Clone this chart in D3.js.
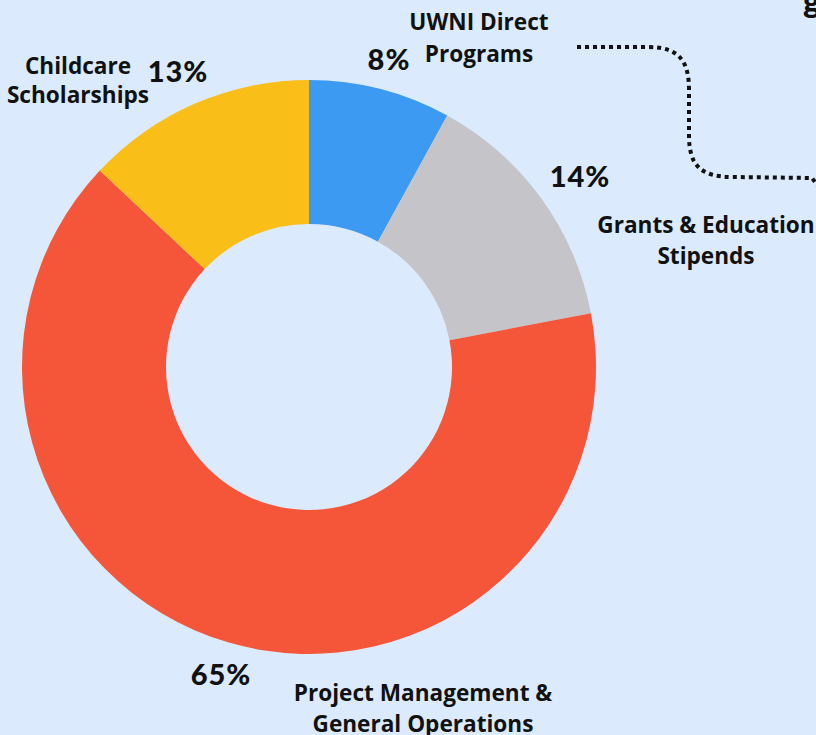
<!DOCTYPE html>
<html><head><meta charset="utf-8">
<script src="https://cdn.jsdelivr.net/npm/d3@7"></script>
<style>
html,body{margin:0;padding:0;background:#dbebfd;overflow:hidden}
svg{display:block}
.lbl{font-family:"Open Sans",sans-serif;font-weight:700;font-size:22.6px;fill:#111}
.pct{font-family:"Lato",sans-serif;font-weight:900;font-size:29px;letter-spacing:1px;fill:#111}
</style></head><body>
<script>
const categories = ["UWNI Direct Programs","Grants & Education Stipends","Project Management & General Operations","Childcare Scholarships"];
const values = [8, 14, 65, 13];
const colors = ["#3d9af2","#c5c4c9","#f5563a","#fabe19"];
const pctLabels = ["8%","14%","65%","13%"];
const labelLines = [["UWNI Direct","Programs"],["Grants & Education","Stipends"],["Project Management &","General Operations"],["Childcare","Scholarships"]];

const W=816,H=735;
const svg=d3.select("body").append("svg").attr("width",W).attr("height",H);
svg.append("rect").attr("width",W).attr("height",H).attr("fill","#dbebfd");

const cx=309, cy=367, R=287, r=143;
const pie=d3.pie().sort(null).value(d=>d)(values);
const arc=d3.arc().innerRadius(r).outerRadius(R);
const g=svg.append("g").attr("transform",`translate(${cx},${cy})`);
g.selectAll("path").data(pie).join("path").attr("d",arc).attr("fill",(d,i)=>colors[i]);

// percentage labels
const pctPos=[[389,70],[580,187],[221,685],[178,82]];
svg.selectAll("text.pct").data(pctLabels).join("text").attr("class","pct")
  .attr("x",(d,i)=>pctPos[i][0]).attr("y",(d,i)=>pctPos[i][1]).attr("text-anchor","middle").text(d=>d);

// category labels
const lblPos=[[479,30],[706,233],[423,701],[78,74]];
const lh=[32,31,31,29];
labelLines.forEach((lines,i)=>{
  const t=svg.append("text").attr("class","lbl").attr("text-anchor","middle");
  lines.forEach((s,j)=>t.append("tspan").attr("x",lblPos[i][0]).attr("y",lblPos[i][1]+j*lh[i]).text(s));
});

// decorative dotted connector
const p=d3.path();
p.moveTo(577,47);p.lineTo(648,47);p.bezierCurveTo(680,47,689,62,689,90);p.lineTo(689,135);
p.bezierCurveTo(689,165,700,177,733,177);p.lineTo(812,178);p.lineTo(818,186);
svg.append("path").attr("d",p.toString()).attr("fill","none").attr("stroke","#111")
  .attr("stroke-width",4).attr("stroke-dasharray","4,4");

// partial title glyph at the edge
svg.append("text").attr("class","pct").attr("x",803).attr("y",13).style("font-size","33px").text("g");
</script>
</body></html>
